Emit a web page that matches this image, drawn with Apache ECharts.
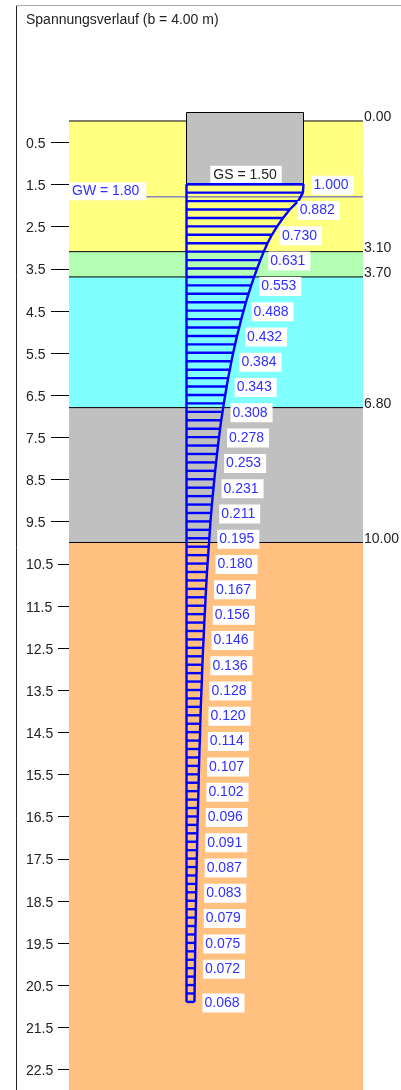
<!DOCTYPE html>
<html><head><meta charset="utf-8">
<style>html,body{margin:0;padding:0;background:#fff}#c{width:401px;height:1090px}</style>
<script src="https://cdn.jsdelivr.net/npm/echarts@6/dist/echarts.min.js"></script>
</head><body><div id="c"></div>
<script>
var titleText = 'Spannungsverlauf (b = 4.00 m)';
var layerTops = [0, 3.1, 3.7, 6.8, 10];
var layerBottoms = [3.1, 3.7, 6.8, 10, 23];
var layerColors = ['#ffff80', '#b3ffb3', '#80ffff', '#c0c0c0', '#ffc080'];
var layerLabels = ['0.00', '3.10', '3.70', '6.80', '10.00'];
var ticksShort = [0.5, 1.5, 2.5, 3.5, 4.5, 5.5, 6.5, 7.5, 8.5, 9.5];
var ticksLong = [10.5, 11.5, 12.5, 13.5, 14.5, 15.5, 16.5, 17.5, 18.5, 19.5, 20.5, 21.5, 22.5];
var foundingDepth = 1.5;
var groundwater = 1.8;
var labelDepths = [1.5, 2.1, 2.7, 3.3, 3.9, 4.5, 5.1, 5.7, 6.3, 6.9, 7.5, 8.1, 8.7, 9.3, 9.9, 10.5, 11.1, 11.7, 12.3, 12.9, 13.5, 14.1, 14.7, 15.3, 15.9, 16.5, 17.1, 17.7, 18.3, 18.9, 19.5, 20.1, 20.9];
var labelValues = [1.000, .882, .730, .631, .553, .488, .432, .384, .343, .308, .278, .253, .231, .211, .195, .180, .167, .156, .146, .136, .128, .120, .114, .107, .102, .096, .091, .087, .083, .079, .075, .072, .068];
var hatchValues = [1.000, .995, .955, .882, .825, .775, .730, .692, .660, .631, .604, .578, .553, .530, .508, .488, .468, .450, .432, .415, .399, .384, .370, .356, .343, .331, .319, .308, .297, .287, .278, .269, .261, .253, .245, .238, .231, .224, .217, .211, .205, .200, .195, .190, .185, .180, .175, .171, .167, .163, .160, .156, .152, .149, .146, .142, .139, .136, .133, .131, .128, .125, .122, .120, .118, .116, .114, .111, .109, .107, .105, .104, .102, .100, .098, .096, .094, .093, .091, .090, .088, .087, .085, .084, .083, .081, .080, .079, .077, .076, .075, .074, .073, .072, .071, .070, .069, .068];

var FONT = '"Liberation Sans", Arial, sans-serif';
var hatchData = hatchValues.map(function (v, i) { return [v, +(foundingDepth + 0.2 * i).toFixed(1)]; });
var lastDepth = hatchData[hatchData.length - 1][1];
var layerData = layerTops.map(function (t, i) { return [t, layerBottoms[i]]; });
var tickValues = ticksShort.concat(ticksLong);
var X0 = -1.0043, X1 = 1.5085;

var chart = echarts.init(document.getElementById('c'), null, { renderer: 'canvas' });
chart.setOption({
  animation: false,
  backgroundColor: '#fff',
  title: { text: titleText, left: 26, top: 13, padding: 0, textStyle: { fontFamily: FONT, fontSize: 14, fontWeight: 'normal', color: '#222' } },
  grid: { left: 69, width: 294, top: 112, height: 978 },
  xAxis: { type: 'value', min: X0, max: X1, show: false },
  yAxis: {
    type: 'value', inverse: true, min: -0.2135, max: 22.99, position: 'left',
    axisLine: { show: false }, splitLine: { show: false }, axisTick: { show: false },
    axisLabel: { show: true, customValues: tickValues, margin: 43, align: 'left', verticalAlign: 'middle',
      color: '#222', fontFamily: FONT, fontSize: 14,
      rich: { a: { color: '#222', fontFamily: FONT, fontSize: 14, lineHeight: 15, padding: [4, 0, 0, 0] } },
      formatter: function (v) { return '{a|' + v.toFixed(1) + '}'; } }
  },
  graphic: [
    { type: 'line', silent: true, shape: { x1: 16.5, y1: 5, x2: 16.5, y2: 1090 }, style: { stroke: '#222', lineWidth: 1 } },
    { type: 'line', silent: true, shape: { x1: 16, y1: 5.5, x2: 401, y2: 5.5 }, style: { stroke: '#aaa', lineWidth: 1 } }
  ],
  series: [
    { type: 'custom', name: 'ticks', silent: true, z: 1, clip: false, data: tickValues.map(function (t) { return [t]; }),
      renderItem: function (p, api) {
        var a = api.coord([X0, api.value(0)]);
        var len = p.dataIndex < ticksShort.length ? 18 : 11;
        var y = Math.round(a[1]) + 0.5;
        return { type: 'line', shape: { x1: a[0] - len, y1: y, x2: a[0], y2: y }, style: { stroke: '#000', lineWidth: 1 } };
      } },
    { type: 'custom', name: 'layers', silent: true, z: 1, clip: false, data: layerData,
      renderItem: function (p, api) {
        var a = api.coord([X0, api.value(0)]), b = api.coord([X1, api.value(1)]);
        return { type: 'group', children: [
          { type: 'rect', shape: { x: a[0], y: a[1], width: b[0] - a[0], height: b[1] - a[1] }, style: { fill: layerColors[p.dataIndex] } },
          { type: 'line', shape: { x1: a[0], y1: a[1], x2: b[0], y2: a[1] }, style: { stroke: '#000', lineWidth: 1 } },
          { type: 'text', style: { x: b[0] + 1, y: a[1] - 3.5, text: layerLabels[p.dataIndex], align: 'left', verticalAlign: 'middle', fill: '#222', font: '14px ' + FONT } }
        ] };
      } },
    { type: 'custom', name: 'foundation', silent: true, z: 2, data: [[foundingDepth]],
      renderItem: function (p, api) {
        var a = api.coord([0, -0.2135]), b = api.coord([1, api.value(0)]);
        return { type: 'group', children: [
          { type: 'rect', shape: { x: a[0], y: a[1] + 0.5, width: b[0] - a[0], height: b[1] - a[1] }, style: { fill: '#c0c0c0', stroke: '#000', lineWidth: 1 } },
          { type: 'text', z2: 5, style: { x: (a[0] + b[0]) / 2 + 1, y: b[1] - 9.5, text: 'GS = ' + api.value(0).toFixed(2), align: 'center', verticalAlign: 'middle', fill: '#222', font: '14px ' + FONT, backgroundColor: '#fff', padding: [3, 5, 1, 3] } }
        ] };
      } },
    { type: 'custom', name: 'gw', silent: true, z: 3, data: [[groundwater]],
      renderItem: function (p, api) {
        var a = api.coord([X0, api.value(0)]), b = api.coord([X1, api.value(0)]);
        return { type: 'group', children: [
          { type: 'line', shape: { x1: a[0], y1: a[1], x2: b[0], y2: a[1] }, style: { stroke: '#4848d8', lineWidth: 1 } },
          { type: 'text', z2: 5, style: { x: a[0], y: a[1] - 5.5, text: 'GW = ' + api.value(0).toFixed(2), align: 'left', verticalAlign: 'middle', fill: '#3030ff', font: '14px ' + FONT, backgroundColor: '#fff', padding: [3, 7, 1, 3] } }
        ] };
      } },
    { type: 'custom', name: 'hatch', silent: true, z: 4, data: hatchData,
      renderItem: function (p, api) {
        var a = api.coord([0, api.value(1)]), b = api.coord([api.value(0), api.value(1)]);
        return { type: 'line', shape: { x1: a[0], y1: a[1], x2: b[0], y2: b[1] }, style: { stroke: '#0000ff', lineWidth: 2.4 } };
      } },
    { type: 'line', name: 'curve', silent: true, z: 5, symbol: 'none', clip: false, data: hatchData, lineStyle: { color: '#0000ff', width: 2.4 } },
    { type: 'line', name: 'edge', silent: true, z: 5, symbol: 'none', clip: false, data: [[0, foundingDepth], [0, lastDepth]], lineStyle: { color: '#0000ff', width: 2.4 } },
    { type: 'scatter', name: 'labels', silent: true, z: 6, symbolSize: 0, itemStyle: { opacity: 1 },
      data: labelValues.map(function (v, i) { return [v, labelDepths[i]]; }),
      label: { show: true, position: 'right', distance: 8, offset: [0, 1], color: '#3030ff', fontFamily: FONT, fontSize: 14, lineHeight: 15, opacity: 1,
        backgroundColor: '#fff', padding: [2, 5, 2, 2],
        formatter: function (p) { return p.value[0].toFixed(3); } } }
  ]
});
</script></body></html>
